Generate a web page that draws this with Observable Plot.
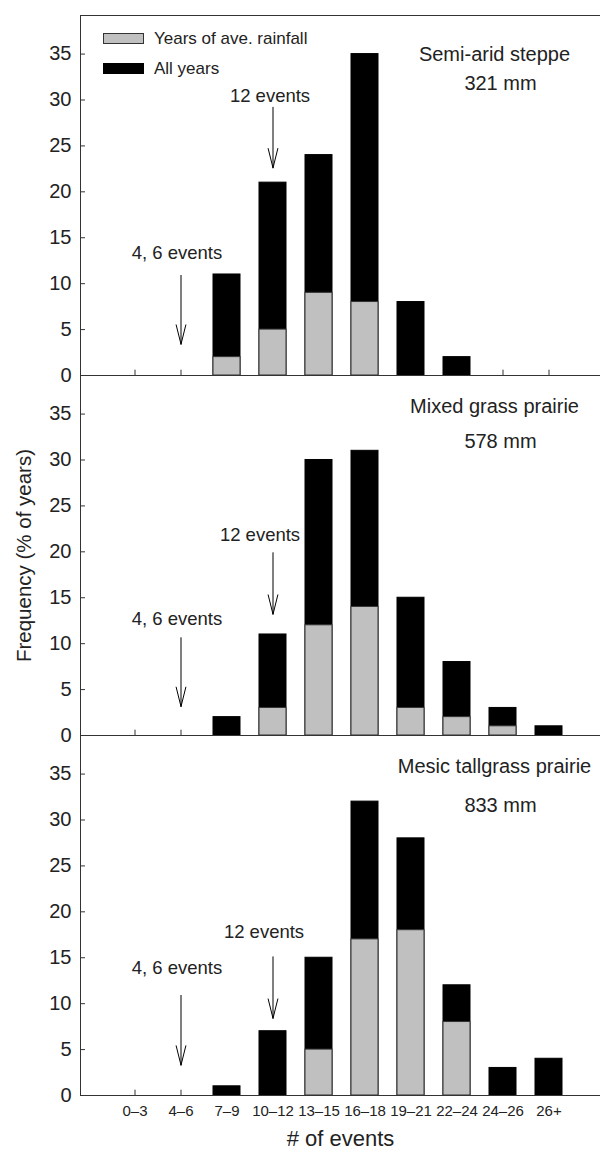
<!DOCTYPE html>
<html><head><meta charset="utf-8">
<script src="https://cdn.jsdelivr.net/npm/d3@7"></script>
<script src="https://cdn.jsdelivr.net/npm/@observablehq/plot@0.6"></script>
<style>
html,body{margin:0;padding:0;background:#fff;}
#chart{position:relative;width:600px;height:1152px;}
svg{display:block;}
</style></head><body><div id="chart"></div>
<script>
// ---- data ----
const categories = ["0–3","4–6","7–9","10–12","13–15","16–18","19–21","22–24","24–26","26+"];
const panels = ["Semi-arid steppe","Mixed grass prairie","Mesic tallgrass prairie"];
const rainfall = ["321 mm","578 mm","833 mm"];
const allYearsSteppe = [0,0,11,21,24,35,8,2,0,0];
const aveYearsSteppe = [0,0,2,5,9,8,0,0,0,0];
const allYearsMixed  = [0,0,2,11,30,31,15,8,3,1];
const aveYearsMixed  = [0,0,0,3,12,14,3,2,1,0];
const allYearsMesic  = [0,0,1,7,15,32,28,12,3,4];
const aveYearsMesic  = [0,0,0,0,5,17,18,8,0,0];
const yTicks = [0,5,10,15,20,25,30,35];
const legendLabels = ["Years of ave. rainfall","All years"];
const arrowLabels = ["4, 6 events","12 events"];
const arrowCategories = ["4–6","10–12"];
// arrow tail / tip values (y units) per panel, for the "4, 6" and "12" arrows
const arrowTail46 = [10.9, 10.65, 10.9];
const arrowTip46  = [3.4, 3.15, 3.3];
const arrowTail12 = [29.2, 19.9, 15.1];
const arrowTip12  = [22.6, 13.2, 8.4];
const yLabel = "Frequency (% of years)";
const xLabel = "# of events";

// ---- layout ----
const W = 600, H = 1152, ML = 80, MR = 0, MT = 14, MB = 56;
const facetH = (H - MT - MB) / 3;
const plotW = W - ML - MR;
const yMax = 39.2;
const FONT = "'Liberation Sans', Arial, Helvetica, sans-serif";
// label placement (y units) per panel
const label46Y = [13.3, 12.7, 13.9];
const label12Y = [30.4, 21.8, 17.8];
const label12Dx = [-3, -13, -9];
const nameY = [34.9, 35.8, 35.8];
const mmY = [31.8, 32.0, 31.6];

const allSeries = [allYearsSteppe, allYearsMixed, allYearsMesic];
const aveSeries = [aveYearsSteppe, aveYearsMixed, aveYearsMesic];
const rows = panels.flatMap((p, pi) => categories.map((c, i) => ({panel: p, cat: c, all: allSeries[pi][i], ave: aveSeries[pi][i]})));
const arrows = panels.flatMap((p, pi) => [
  {panel: p, cat: arrowCategories[0], tail: arrowTail46[pi], tip: arrowTip46[pi], label: arrowLabels[0], ly: label46Y[pi], dx: -4},
  {panel: p, cat: arrowCategories[1], tail: arrowTail12[pi], tip: arrowTip12[pi], label: arrowLabels[1], ly: label12Y[pi], dx: label12Dx[pi]}
]);
const panelRows = panels.map((p, pi) => ({panel: p, mm: rainfall[pi], ny: nameY[pi], my: mmY[pi]}));

const marks = [
  Plot.tickX(categories, {x: d => d, insetTop: facetH - 6, stroke: "#333"}),
  Plot.tickY(yTicks, {y: d => d, insetRight: plotW - 5, stroke: "#333"}),
  Plot.barY(rows.filter(d => d.all > 0), {x: "cat", y: "all", fy: "panel", fill: "#000", stroke: "#000"}),
  Plot.barY(rows.filter(d => d.ave > 0), {x: "cat", y: "ave", fy: "panel", fill: "#c0c0c0", stroke: "#333"}),
  Plot.frame({stroke: "#333"}),
  Plot.arrow(arrows, {x1: "cat", x2: "cat", y1: "tail", y2: "tip", fy: "panel", headAngle: 28, headLength: 30, stroke: "#000", strokeWidth: 1}),
  ...arrows.map(a => Plot.text([a], {x: "cat", y: "ly", fy: "panel", text: "label", dx: a.dx, fontSize: 18.5, fill: "#222"})),
  Plot.text(panelRows, {fy: "panel", y: "ny", text: "panel", frameAnchor: "left", textAnchor: "middle", dx: 414, fontSize: 20, fill: "#222"}),
  Plot.text(panelRows, {fy: "panel", y: "my", text: "mm", frameAnchor: "left", textAnchor: "middle", dx: 420, fontSize: 20, fill: "#222"}),
  Plot.axisY({ticks: yTicks, tickSize: 0, tickPadding: 9, fontSize: 20, label: null, fill: "#222"}),
  Plot.axisX({tickSize: 0, tickPadding: 10, fontSize: 15, label: null, fill: "#222"}),
  Plot.text([yLabel], {fy: () => panels[1], text: d => d, frameAnchor: "left", textAnchor: "middle", rotate: -90, dx: -56, fontSize: 20.5, fill: "#222"}),
  Plot.text([xLabel], {fy: () => panels[2], text: d => d, frameAnchor: "bottom", textAnchor: "middle", dy: 50, fontSize: 22, fill: "#222"})
];

const chart = Plot.plot({
  width: W, height: H,
  marginLeft: ML, marginRight: MR, marginTop: MT, marginBottom: MB,
  style: {fontFamily: FONT, color: "#222", background: "#fff"},
  x: {domain: categories, paddingInner: 0.403, paddingOuter: 0.745, align: 0.52, label: null},
  y: {domain: [0, yMax], label: null},
  fy: {domain: panels, padding: 0, axis: null, label: null},
  marks
});
document.getElementById("chart").appendChild(chart);

// legend (top panel)
const svg = d3.select(chart.tagName.toLowerCase() === "svg" ? chart : chart.querySelector("svg"));
const lg = svg.append("g").attr("font-family", FONT).attr("font-size", 17).attr("fill", "#222").attr("text-anchor", "start");
const swatches = [{fill: "#c0c0c0", stroke: "#333", y: 33}, {fill: "#000", stroke: "#000", y: 63}];
legendLabels.forEach((t, i) => {
  lg.append("rect").attr("x", 103.5).attr("y", swatches[i].y + 0.5).attr("width", 40).attr("height", 10)
    .attr("fill", swatches[i].fill).attr("stroke", swatches[i].stroke);
  lg.append("text").attr("x", 154).attr("y", swatches[i].y + 5.5).attr("dy", "0.35em").attr("text-anchor", "start").text(t);
});
</script></body></html>
